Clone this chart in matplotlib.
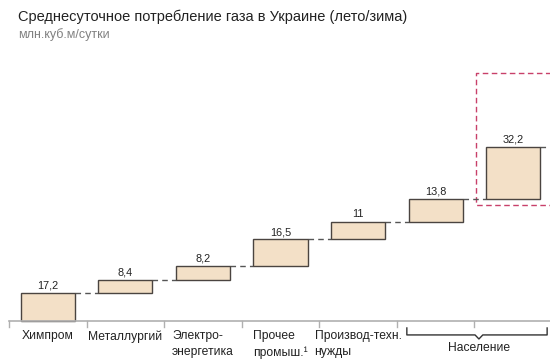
import matplotlib
matplotlib.use("Agg")
import matplotlib.pyplot as plt

# data
categories = ["Химпром", "Металлургий", "Электро-\nэнергетика", "Прочее\nпромыш.\u00b9",
              "Производ-техн.\nнужды", "", ""]
values = [17.2, 8.4, 8.2, 16.5, 11, 13.8, 32.2]
value_labels = ["17,2", "8,4", "8,2", "16,5", "11", "13,8", "32,2"]
group_label = "Население"

plt.rcParams['font.family'] = ['Liberation Sans', 'DejaVu Sans']

fill = "#f3e0c7"
edge = "#4a4440"
txt = "#222222"

fig = plt.figure(figsize=(5.5, 3.6), dpi=100)
ax = fig.add_axes([0, 0, 1, 1])
ax.set_xlim(-0.619, 6.477)
ax.set_ylim(-24.07, 198.1)
ax.axis("off")

w = 0.697
bottom = 0
for i, v in enumerate(values):
    ax.bar(i, v, bottom=bottom, width=w, color=fill, edgecolor=edge, linewidth=1.0, zorder=3)
    ax.text(i, bottom + v + 1.5, value_labels[i], ha="center", va="bottom",
            fontsize=7.8, color=txt)
    bottom += v
    # dashed connector to next bar
    ax.plot([i + w / 2, i + 1 - w / 2], [bottom, bottom], ls=(0, (4, 3)),
            color="#555555", lw=1.0, zorder=2)

# axis line and ticks
ax.plot([-0.5, 6.5], [0, 0], color="#b0b0b0", lw=1.2, zorder=4)
for i in range(len(values) + 1):
    ax.plot([i - 0.5, i - 0.5], [0, -3.7], color="#b0b0b0", lw=1.0)

for i, c in enumerate(categories):
    if c:
        ax.text(i, -5.8, c, ha="center", va="top", ma="left", fontsize=8.7,
                color=txt, linespacing=1.45)

# bracket for Население
bx0, bx1, bm = 4.63, 6.44, 5.56
ax.plot([bx0, bx0, bm - 0.05, bm, bm + 0.05, bx1, bx1],
        [-4.3, -8.6, -8.6, -11.1, -8.6, -8.6, -4.3], color="#333333", lw=1.0)
ax.text(bm, -13.0, group_label, ha="center", va="top", fontsize=8.7, color=txt)

# dashed highlight box
ax.plot([7.0, 5.52, 5.52, 7.0], [153, 153, 71.6, 71.6], ls=(0, (4, 2.5)),
        color="#c8406a", lw=1.0, zorder=1)

fig.text(18 / 550, 1 - 17 / 360, "Среднесуточное потребление газа в Украине (лето/зима)",
         fontsize=10.5, color="#222222", va="center")
fig.text(18 / 550, 1 - 35 / 360, "млн.куб.м/сутки", fontsize=9, color="#808080",
         va="center")

fig.savefig("out.png", dpi=100, facecolor="white")
